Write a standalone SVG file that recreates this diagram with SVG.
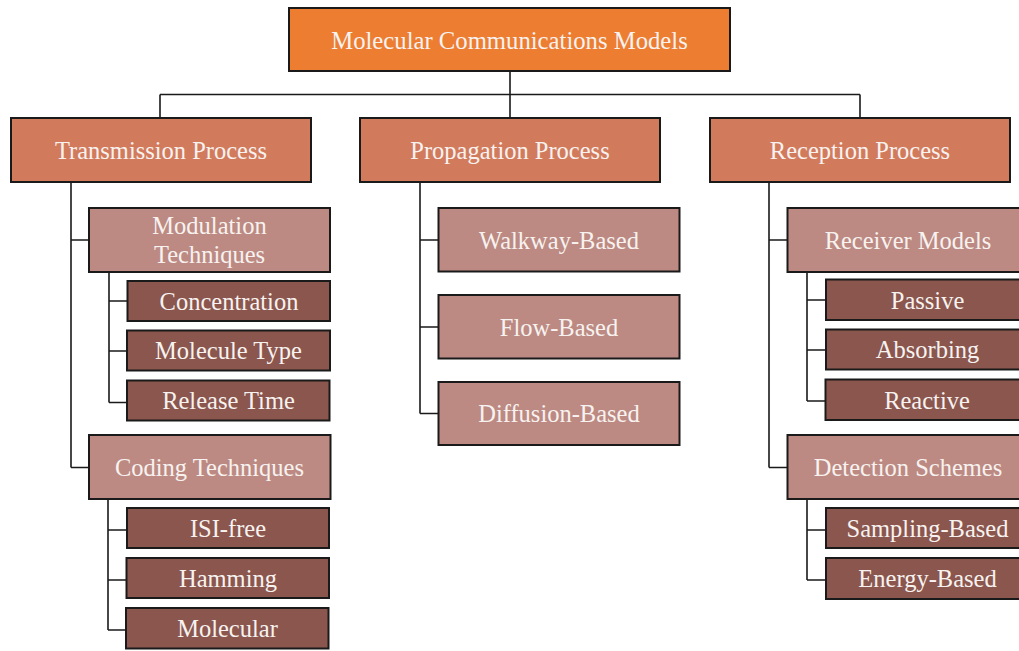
<svg xmlns="http://www.w3.org/2000/svg" width="1019" height="651" viewBox="0 0 1019 651">
<style>
.n rect{stroke:#1a1a1a;stroke-width:2}
.l0{fill:#ED7D31}
.l1{fill:#D27B5C}
.l2{fill:#BC8A82}
.l3{fill:#8A564D}
text{font-family:"Liberation Serif","Times New Roman",serif;font-size:24.5px;fill:#F7F2F0;text-anchor:middle}
#root text{font-size:24.7px}
#connectors path{fill:none;stroke:#1a1a1a;stroke-width:1.6}
</style>
<rect x="0" y="0" width="1019" height="651" fill="#fff"/>
<g id="connectors">
<path d="M510 71V118M160 94.5H860M160 94.5V118M860 94.5V118"/>
<path d="M71 182V467.5M71 240H89M71 467.5H89"/>
<path d="M109 272V402.5M109 301H127M109 351H127M109 402.5H127"/>
<path d="M108 499V630M108 530H127M108 580H127M108 630H127"/>
<path d="M420 182V413.5M420 240H438M420 327H438M420 413.5H438"/>
<path d="M769 182V467.5M769 240H787M769 467.5H787"/>
<path d="M807 272V401M807 300H826M807 350H826M807 401H826"/>
<path d="M807 499V580M807 530H826M807 580H826"/>
</g>
<g id="root" class="n"><rect class="l0" x="289" y="8" width="441" height="63"/><text x="509.5" y="49">Molecular Communications Models</text></g>
<g id="transmission" class="n"><rect class="l1" x="11" y="118" width="300" height="64"/><text x="161" y="158.5">Transmission Process</text></g>
<g id="propagation" class="n"><rect class="l1" x="360" y="118" width="300" height="64"/><text x="510" y="158.5">Propagation Process</text></g>
<g id="reception" class="n"><rect class="l1" x="710" y="118" width="300" height="64"/><text x="860" y="158.5">Reception Process</text></g>
<g id="modulation" class="n"><rect class="l2" x="89" y="208" width="241" height="64"/><text x="209.5" y="233.5">Modulation</text><text x="209.5" y="263">Techniques</text></g>
<g id="concentration" class="n"><rect class="l3" x="127.5" y="281" width="202.5" height="40"/><text x="229" y="309.5">Concentration</text></g>
<g id="molecule-type" class="n"><rect class="l3" x="127" y="330.5" width="203" height="40"/><text x="228.5" y="359">Molecule Type</text></g>
<g id="release-time" class="n"><rect class="l3" x="127" y="380.5" width="202.5" height="40"/><text x="228.5" y="409">Release Time</text></g>
<g id="coding" class="n"><rect class="l2" x="89" y="435" width="241.5" height="64"/><text x="209.5" y="476">Coding Techniques</text></g>
<g id="isi-free" class="n"><rect class="l3" x="127" y="508" width="202" height="40"/><text x="228" y="536.5">ISI-free</text></g>
<g id="hamming" class="n"><rect class="l3" x="126.5" y="558" width="202.5" height="40"/><text x="228" y="586.5">Hamming</text></g>
<g id="molecular" class="n"><rect class="l3" x="126" y="608" width="202.5" height="40.5"/><text x="227.5" y="637">Molecular</text></g>
<g id="walkway" class="n"><rect class="l2" x="438.5" y="208" width="241" height="63.5"/><text x="559" y="248.5">Walkway-Based</text></g>
<g id="flow" class="n"><rect class="l2" x="438.5" y="295" width="241" height="63.5"/><text x="559" y="335.5">Flow-Based</text></g>
<g id="diffusion" class="n"><rect class="l2" x="438.5" y="382" width="241" height="63"/><text x="559" y="422">Diffusion-Based</text></g>
<g id="receiver-models" class="n"><rect class="l2" x="787.5" y="208" width="241" height="64"/><text x="908" y="248.5">Receiver Models</text></g>
<g id="passive" class="n"><rect class="l3" x="826" y="279.5" width="203" height="40.5"/><text x="927.5" y="308.5">Passive</text></g>
<g id="absorbing" class="n"><rect class="l3" x="826" y="329.5" width="203" height="40"/><text x="927.5" y="358">Absorbing</text></g>
<g id="reactive" class="n"><rect class="l3" x="825.5" y="379.5" width="203" height="40.5"/><text x="927" y="408.5">Reactive</text></g>
<g id="detection" class="n"><rect class="l2" x="787.5" y="435" width="241" height="64"/><text x="908" y="476">Detection Schemes</text></g>
<g id="sampling" class="n"><rect class="l3" x="826" y="508" width="203" height="40"/><text x="927.5" y="536.5">Sampling-Based</text></g>
<g id="energy" class="n"><rect class="l3" x="826" y="558" width="203" height="41"/><text x="927.5" y="587">Energy-Based</text></g>
</svg>
